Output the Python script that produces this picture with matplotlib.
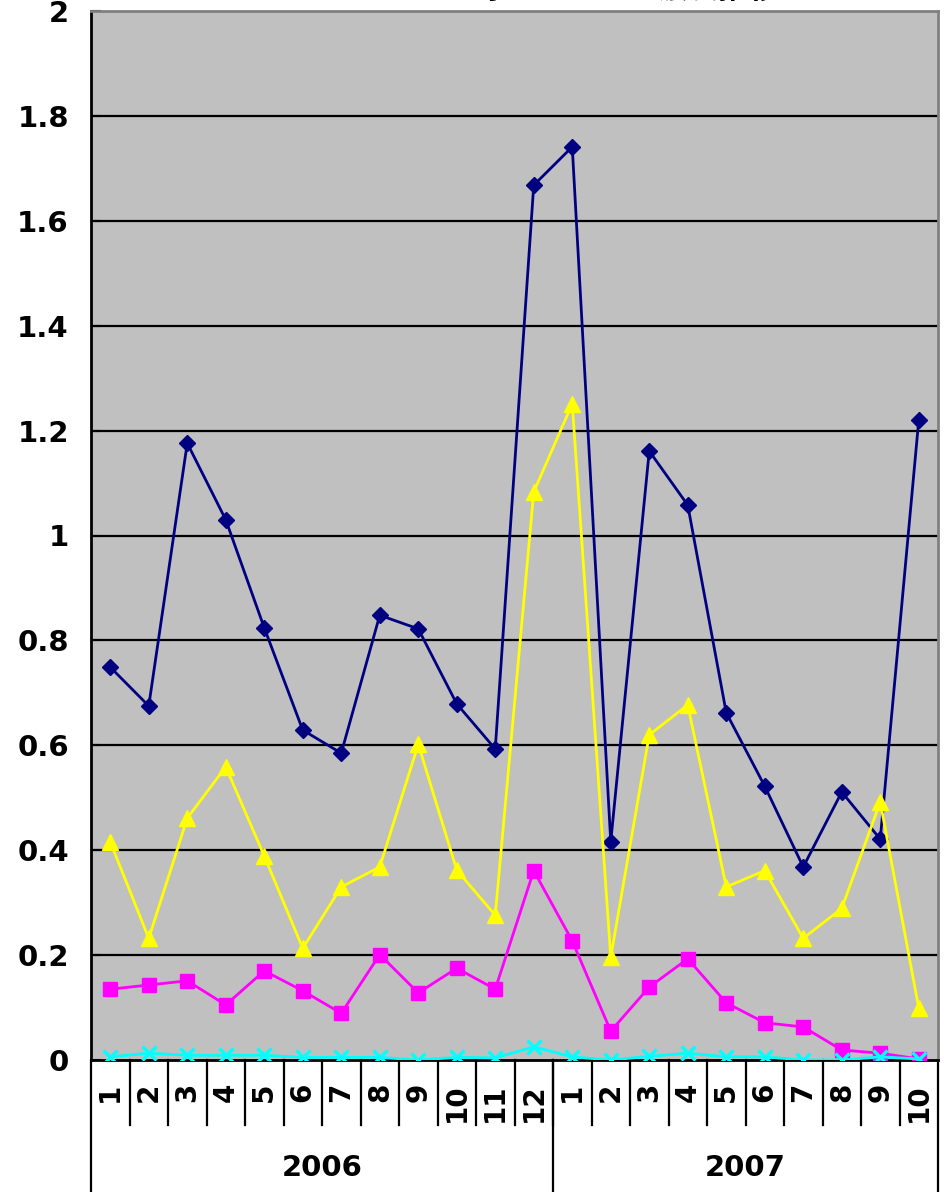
import numpy as np
import matplotlib
matplotlib.use("Agg")
import matplotlib.pyplot as plt

plt.rcParams['font.family'] = ['DejaVu Sans', 'Noto Sans CJK JP']

# =========================
# DATA
# =========================
years = ["2006", "2007"]
months_2006 = [str(m) for m in range(1, 13)]
months_2007 = [str(m) for m in range(1, 11)]
month_labels = months_2006 + months_2007

series_navy = [0.749, 0.675, 1.176, 1.030, 0.824, 0.629, 0.585, 0.848, 0.822, 0.679, 0.593, 1.668,
               1.741, 0.416, 1.161, 1.058, 0.662, 0.522, 0.368, 0.511, 0.421, 1.220]
series_magenta = [0.135, 0.143, 0.151, 0.105, 0.170, 0.132, 0.089, 0.201, 0.128, 0.175, 0.135, 0.361,
                  0.227, 0.055, 0.139, 0.193, 0.109, 0.071, 0.063, 0.019, 0.013, 0.002]
series_yellow = [0.416, 0.232, 0.461, 0.559, 0.389, 0.213, 0.330, 0.368, 0.602, 0.362, 0.276, 1.083,
                 1.251, 0.196, 0.620, 0.677, 0.330, 0.361, 0.232, 0.289, 0.492, 0.099]
series_cyan = [0.006, 0.013, 0.009, 0.009, 0.009, 0.005, 0.005, 0.005, 0.000, 0.005, 0.004, 0.025,
               0.006, 0.000, 0.007, 0.013, 0.006, 0.006, 0.000, 0.000, 0.006, 0.002]

title = "ベンゼン等の　　　　濃度推移"

# =========================
# FIGURE
# =========================
W, H = 944, 1192
fig = plt.figure(figsize=(W / 100, H / 100), dpi=100)
fig.patch.set_facecolor("white")

left, right, top, bottom = 91, 938, 11, 1060
ax = fig.add_axes([left / W, 1 - bottom / H, (right - left) / W, (bottom - top) / H])
ax.set_facecolor("#C0C0C0")

x = np.arange(len(month_labels))
lw = 2.0

ax.plot(x, series_navy, color="#000080", lw=lw, marker="D", ms=8.5, zorder=3)
ax.plot(x, series_magenta, color="#FF00FF", lw=lw, marker="s", ms=9.5, zorder=4)
ax.plot(x, series_yellow, color="#FFFF00", lw=lw, marker="^", ms=11, zorder=5)
ax.plot(x, series_cyan, color="#00FFFF", lw=lw, marker="x", ms=10, mew=2.4, zorder=6)

ax.set_xlim(-0.5, len(month_labels) - 0.5)
ax.set_ylim(0, 2)
ax.set_yticks(np.arange(0, 2.01, 0.2))
ax.set_yticklabels(["0", "0.2", "0.4", "0.6", "0.8", "1", "1.2", "1.4", "1.6", "1.8", "2"],
                   fontsize=21, fontweight="bold")
ax.tick_params(axis="y", direction="in", length=7, width=1.5, pad=16)
ax.set_xticks([])

# horizontal gridlines
for yv in np.arange(0.2, 1.81, 0.2):
    ax.axhline(yv, color="black", lw=1.6, zorder=1)

for side in ("left", "bottom"):
    ax.spines[side].set_color("black")
    ax.spines[side].set_linewidth(2)
for side in ("top", "right"):
    ax.spines[side].set_color("#808080")
    ax.spines[side].set_linewidth(2)

# =========================
# CATEGORY AXIS (months / years)
# =========================
ax_h = bottom - top
tr = ax.get_xaxis_transform()
month_line_end = -65 / ax_h
year_line_end = -140 / ax_h

for i, lab in enumerate(month_labels):
    ax.text(i, -23 / ax_h, lab, transform=tr, rotation=90, ha="center", va="top",
            fontsize=20, fontweight="bold")

for b in np.arange(0.5, len(month_labels) - 1, 1.0):
    ax.plot([b, b], [0, month_line_end], transform=tr, color="black", lw=1.6, clip_on=False)

year_bounds = [-0.5, len(months_2006) - 0.5, len(month_labels) - 0.5]
for b in year_bounds:
    ax.plot([b, b], [0, year_line_end], transform=tr, color="black", lw=1.6, clip_on=False)

for j, yr in enumerate(years):
    cx = (year_bounds[j] + year_bounds[j + 1]) / 2
    ax.text(cx, -108 / ax_h, yr, transform=tr, ha="center", va="center",
            fontsize=21, fontweight="bold")

# title sits mostly above the top edge
fig.text(565 / W, 1 - 5 / H, title, ha="center", va="bottom", fontsize=22, fontweight="bold",
         family=["Noto Sans CJK JP", "DejaVu Sans"])

fig.savefig("out.png", dpi=100)
